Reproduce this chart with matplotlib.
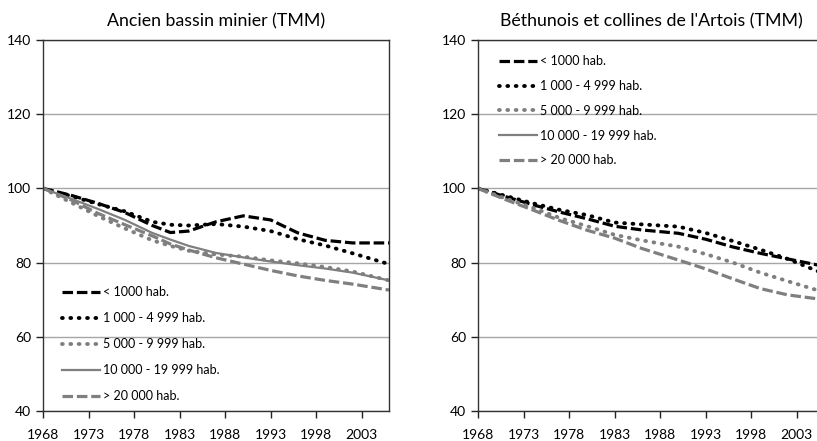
import matplotlib
matplotlib.use("Agg")
import matplotlib.pyplot as plt

plt.rcParams['font.family'] = ['Lato', 'DejaVu Sans']

# values (index base 100 in 1968)
years = [1968, 1971, 1974, 1977, 1980, 1982, 1984, 1987, 1990, 1993, 1996, 1999, 2002, 2006]
labels = ["< 1000 hab.", "1 000 - 4 999 hab.", "5 000 - 9 999 hab.",
          "10 000 - 19 999 hab.", "> 20 000 hab."]

bassin_lt1000 = [100, 98.2, 96.0, 93.5, 90.0, 88.1, 88.5, 91.0, 92.6, 91.5, 88.0, 86.0, 85.3, 85.3]
bassin_1000 = [100, 98.0, 95.8, 93.8, 91.0, 90.2, 90.0, 90.4, 89.7, 88.5, 86.3, 84.6, 82.5, 79.6]
bassin_5000 = [100, 96.3, 92.6, 89.2, 86.0, 84.5, 83.2, 82.2, 81.6, 80.6, 79.8, 78.8, 77.6, 75.2]
bassin_10000 = [100, 97.3, 94.5, 91.5, 88.0, 86.2, 84.5, 82.6, 81.4, 80.3, 79.3, 78.4, 77.3, 75.2]
bassin_20000 = [100, 97.0, 93.3, 90.2, 87.2, 85.0, 83.4, 81.3, 79.6, 77.9, 76.4, 75.2, 74.2, 72.6]

years_b = [1968, 1971, 1974, 1977, 1980, 1983, 1986, 1990, 1993, 1996, 1999, 2002, 2006]
beth_lt1000 = [100, 97.8, 95.6, 93.6, 91.8, 89.8, 88.8, 87.9, 86.3, 84.2, 82.5, 81.0, 79.0]
beth_1000 = [100, 98.0, 96.0, 94.2, 92.8, 90.8, 90.3, 89.7, 88.0, 85.8, 83.5, 81.0, 77.0]
beth_5000 = [100, 97.3, 94.8, 92.0, 89.8, 87.5, 86.0, 84.3, 82.3, 80.0, 77.3, 75.0, 72.0]
beth_10000 = []  # not visible in the reference
beth_20000 = [100, 97.0, 94.2, 91.3, 88.7, 86.6, 83.8, 80.7, 78.3, 75.6, 73.0, 71.3, 70.0]

black = "#000000"
gray = "#7f7f7f"
styles = [
    dict(color=black, lw=2.3, dashes=(3.3, 1.2), dash_capstyle="butt"),
    dict(color=black, lw=2.8, dashes=(0.2, 1.95), dash_capstyle="round"),
    dict(color=gray, lw=2.8, dashes=(0.2, 1.95), dash_capstyle="round"),
    dict(color=gray, lw=1.6, ls="-"),
    dict(color=gray, lw=2.3, dashes=(3.3, 1.2), dash_capstyle="butt"),
]

fig = plt.figure(figsize=(8.17, 4.41), dpi=100)
ax1 = fig.add_axes([43 / 817, 30 / 441, 346 / 817, 371 / 441])
ax2 = fig.add_axes([478 / 817, 30 / 441, 346 / 817, 371 / 441])


def draw(ax, x, series, title, leg_loc, leg_anchor, spacing):
    for vals, lab, st in zip(series, labels, styles):
        ax.plot(x[:len(vals)], vals, label=lab, **st)
    ax.set_xlim(1968, 2006)
    ax.set_ylim(40, 140)
    ax.set_xticks(range(1968, 2006, 5))
    ax.set_yticks(range(40, 141, 20))
    ax.tick_params(labelsize=10, length=5, width=1, direction="out", colors="#222222",
                   labelcolor="black")
    ax.tick_params(axis="x", pad=8)
    ax.grid(axis="y", color="#a6a6a6", lw=1)
    ax.set_axisbelow(True)
    for s in ax.spines.values():
        s.set_color("#333333")
        s.set_linewidth(1)
    ax.set_title(title, fontsize=12.8, pad=10)
    leg = ax.legend(loc=leg_loc, bbox_to_anchor=leg_anchor, frameon=False, fontsize=9,
                    handlelength=3.0, handletextpad=0.25, labelspacing=spacing,
                    borderaxespad=0)
    return leg


draw(ax1, years, [bassin_lt1000, bassin_1000, bassin_5000, bassin_10000, bassin_20000],
     "Ancien bassin minier (TMM)", "lower left", (14 / 346, 4 / 371), 1.12)
draw(ax2, years_b, [beth_lt1000, beth_1000, beth_5000, beth_10000, beth_20000],
     "Béthunois et collines de l'Artois (TMM)", "upper left", (16 / 346, 1 - 10 / 371), 1.03)

fig.savefig("out.png", dpi=100)
